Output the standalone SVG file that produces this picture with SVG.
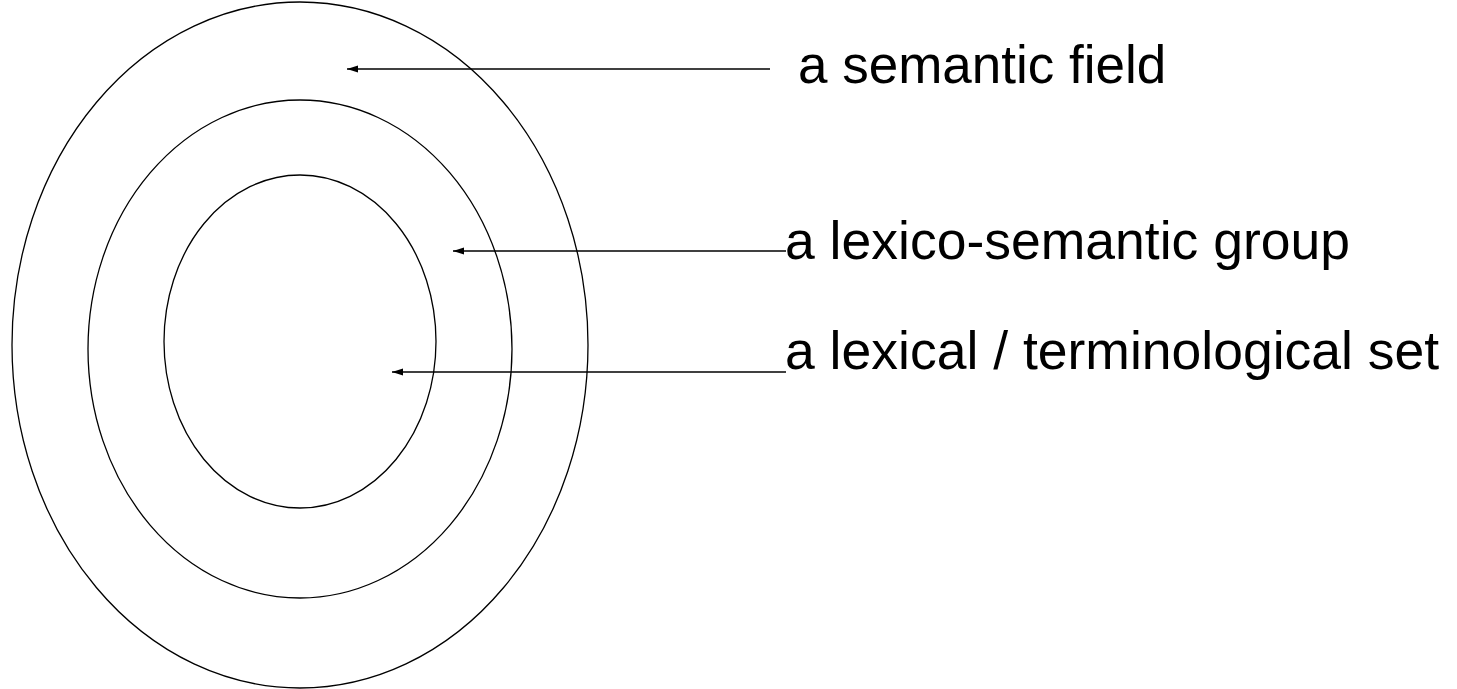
<svg xmlns="http://www.w3.org/2000/svg" width="1457" height="689" viewBox="0 0 1457 689">
<style>
.ring{fill:none;stroke:#000;stroke-width:1.3}
.conn{stroke:#000;stroke-width:1.5;fill:none}
.lbl{font-family:"Liberation Sans",Arial,sans-serif;fill:#000}
</style>
<defs>
<marker id="ah" markerWidth="12" markerHeight="8" refX="11" refY="3.5" orient="auto" markerUnits="userSpaceOnUse">
<path d="M0,0 L11,3.5 L0,7 Z" fill="#000"/>
</marker>
</defs>
<rect width="1457" height="689" fill="#fff"/>
<g id="semantic-field"><ellipse class="ring" cx="300" cy="345" rx="288" ry="343"/></g>
<g id="lexico-semantic-group"><ellipse class="ring" cx="300" cy="349" rx="212" ry="249"/></g>
<g id="lexical-set"><ellipse class="ring" cx="300" cy="341.5" rx="136" ry="166.5"/></g>
<g id="connectors">
<line class="conn" x1="770" y1="69" x2="347" y2="69" marker-end="url(#ah)"/>
<line class="conn" x1="786" y1="251" x2="453" y2="251" marker-end="url(#ah)"/>
<line class="conn" x1="786" y1="372" x2="392" y2="372" marker-end="url(#ah)"/>
</g>
<g id="labels">
<text class="lbl" x="798" y="83" font-size="53">a semantic field</text>
<text class="lbl" x="785" y="259" font-size="53.5">a lexico-semantic group</text>
<text class="lbl" x="785" y="369" font-size="53.5">a lexical / terminological set</text>
</g>
</svg>
